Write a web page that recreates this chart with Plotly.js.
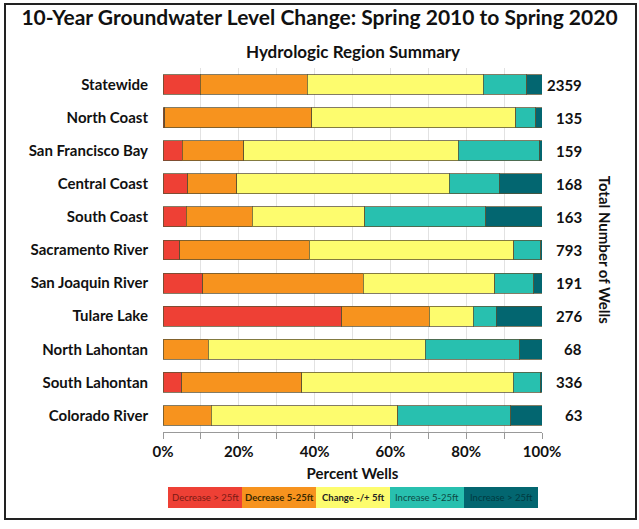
<!DOCTYPE html>
<html>
<head>
<meta charset="utf-8">
<script src="https://cdn.plot.ly/plotly-3.0.1.min.js"></script>
<style>
html,body{margin:0;padding:0;background:#fff;}
#wrap{position:relative;width:639px;height:529px;}
#chart{position:absolute;left:0;top:0;width:639px;height:529px;}
#frame{position:absolute;left:4px;top:3px;width:629px;height:513px;border:2px solid #222;pointer-events:none;}
</style>
</head>
<body>
<div id="wrap"><div id="chart"></div><div id="frame"></div></div>
<script>
const regions = ["Statewide","North Coast","San Francisco Bay","Central Coast","South Coast","Sacramento River","San Joaquin River","Tulare Lake","North Lahontan","South Lahontan","Colorado River"];
const wellCounts = ["2359","135","159","168","163","793","191","276","68","336","63"];
const seriesNames = ["Decrease > 25ft","Decrease 5-25ft","Change -/+ 5ft","Increase 5-25ft","Increase > 25ft"];
const decrease25 = [9.8, 0.5, 5.1, 6.5, 6.1, 4.4, 10.5, 47.2, 0.0, 5.0, 0.0];
const decrease5_25 = [28.2, 38.8, 16.2, 13.0, 17.4, 34.2, 42.3, 23.0, 11.9, 31.6, 12.7];
const change5 = [46.5, 53.8, 56.6, 56.0, 29.7, 54.0, 34.7, 11.6, 57.3, 55.8, 49.2];
const increase5_25 = [11.5, 5.3, 21.4, 13.2, 32.0, 7.1, 10.3, 6.1, 24.9, 7.2, 29.9];
const increase25 = [4.0, 1.6, 0.7, 11.3, 14.8, 0.3, 2.2, 12.1, 5.9, 0.4, 8.2];
const colors = ["#ee4035","#f7931e","#fdfc6e","#28c0af","#036670"];
const legendTextColors = ["#7a1a14","#3a2a00","#222","#0c4a44","#013a40"];

const seriesValues = [decrease25, decrease5_25, change5, increase5_25, increase25];
const FONT = "Lato, 'Open Sans', sans-serif";

const traces = seriesValues.map((vals, i) => ({
  type: "bar",
  orientation: "h",
  name: seriesNames[i],
  y: regions,
  x: vals.map(v => v / 100),
  marker: {color: colors[i], line: {color: "rgba(90,80,50,0.75)", width: 1}},
  width: 0.6,
  showlegend: false,
  hoverinfo: "x+y+name"
}));

const annotations = [];
regions.forEach((r, i) => {
  annotations.push({
    xref: "paper", yref: "y", x: 1.111, y: r, xanchor: "right", yanchor: "middle",
    text: "<b>" + wellCounts[i] + "</b>", showarrow: false,
    font: {family: FONT, size: 15, color: "#111"}
  });
});
annotations.push({
  xref: "paper", yref: "paper", x: 1.167, y: 0.5, xanchor: "center", yanchor: "middle", textangle: 90,
  text: "<b>Total Number of Wells</b>", showarrow: false,
  font: {family: FONT, size: 15, color: "#111"}
});
annotations.push({
  xref: "paper", yref: "paper", x: 0.5, y: 1.044, xanchor: "center", yanchor: "middle",
  text: "<b>Hydrologic Region Summary</b>", showarrow: false,
  font: {family: FONT, size: 17, color: "#111"}
});

const shapes = [];
const legLeft = 168, legRight = 538, legTop = 487, legBottom = 508;
const pw = 379, ph = 364, pl = 163, pt = 68;
const boxW = (legRight - legLeft) / seriesNames.length;
const toX = px => (px - pl) / pw;
const toY = py => 1 - (py - pt) / ph;
seriesNames.forEach((nm, i) => {
  const x0 = legLeft + i * boxW, x1 = x0 + boxW;
  shapes.push({type: "rect", xref: "paper", yref: "paper", x0: toX(x0), x1: toX(x1), y0: toY(legBottom), y1: toY(legTop),
    fillcolor: colors[i], line: {width: 0}, layer: "above"});
  annotations.push({xref: "paper", yref: "paper", x: toX((x0 + x1) / 2), y: toY((legTop + legBottom) / 2),
    xanchor: "center", yanchor: "middle", showarrow: false,
    text: (i === 1 || i === 2) ? "<b>" + nm + "</b>" : nm,
    font: {family: FONT, size: 9.5, color: legendTextColors[i]}});
});

const layout = {
  width: 639, height: 529,
  margin: {l: 163, r: 97, t: 68, b: 97},
  paper_bgcolor: "rgba(0,0,0,0)",
  plot_bgcolor: "#fff",
  barmode: "stack",
  title: {text: "<b>10-Year Groundwater Level Change: Spring 2010 to Spring 2020</b>",
    font: {family: FONT, size: 21, color: "#111"}, x: 0.5, xanchor: "center", y: 0.966, yanchor: "middle"},
  xaxis: {
    range: [0, 1], tickformat: ".0%", tickvals: [0, 0.2, 0.4, 0.6, 0.8, 1.0],
    ticks: "outside", ticklen: 6, tickcolor: "#999",
    showgrid: true, gridcolor: "#e2e2e2", gridwidth: 1,
    minor: {tickvals: [0.1,0.3,0.5,0.7,0.9], ticks: "outside", ticklen: 6, tickcolor: "#999", showgrid: true, gridcolor: "#e2e2e2"},
    showline: true, linecolor: "#999", linewidth: 1,
    zeroline: false,
    tickfont: {family: FONT, size: 15, color: "#111", weight: "bold"},
    title: {text: "<b>Percent Wells</b>", font: {family: FONT, size: 15, color: "#111"}, standoff: 9},
    fixedrange: true
  },
  yaxis: {
    type: "category", autorange: "reversed",
    ticks: "", ticklabelstandoff: 14,
    showgrid: false, showline: false, zeroline: false,
    tickfont: {family: FONT, size: 15, color: "#111", weight: "bold"},
    fixedrange: true
  },
  annotations: annotations,
  shapes: shapes,
  showlegend: false
};

Plotly.newPlot("chart", traces, layout, {displayModeBar: false, staticPlot: true});
</script>
</body>
</html>
